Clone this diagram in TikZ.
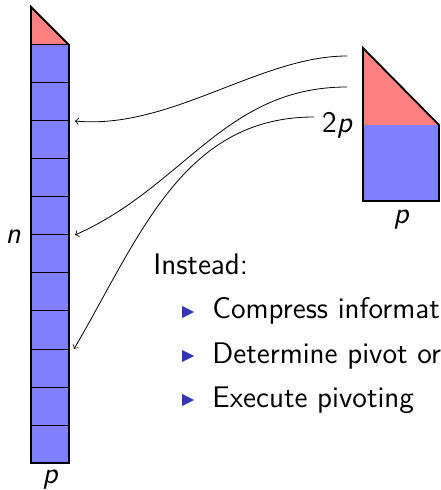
\documentclass[tikz,border=0pt]{standalone}
\usepackage{fontspec}
\definecolor{bulletblue}{RGB}{51,51,179}
\begin{document}
\begin{tikzpicture}[x=0.5pt,y=-0.5pt,
  txt/.style={font=\sffamily\fontsize{14.9pt}{17pt}\selectfont, inner sep=0pt},
  cellbox/.style={draw=black, line width=0.5pt, fill=blue!50, minimum width=19pt, minimum height=19pt, inner sep=0pt, outer sep=0pt, anchor=north west},
  outline/.style={draw=black, line width=0.9pt, line join=miter},
  conn/.style={->, line width=0.4pt}
]
\useasboundingbox (0,0) rectangle (440,490);
% tall column
\fill[red!50] (31,7) -- (69,45) -- (31,45) -- cycle;
\foreach \k in {1,...,11} {
  \node[cellbox] (cell\k) at (31,{45+38*(\k-1)}) {};
}
\draw[outline] (31,7) -- (69,45) -- (69,463) -- (31,463) -- cycle;
% right block
\fill[red!50] (363,48) -- (439,125) -- (363,125) -- cycle;
\fill[blue!50] (363,125) rectangle (439,201);
\draw[outline] (363,48) -- (439,125) -- (439,201) -- (363,201) -- cycle;
% labels
\node[txt] (lbln) at (13,237) {\itshape n};
\node[txt] (lblpa) at (50,480) {\itshape p};
\node[txt] (lblpb) at (401,220) {\itshape p};
\node[txt] (lbltwo) at (337,125) {2\itshape p};
% arrows
\coordinate (s1) at (347,56);
\coordinate (s2) at (347,87);
\coordinate (s3) at (314,117);
\coordinate (e1) at ([xshift=3pt]cell3.north east);
\coordinate (e2) at ([xshift=3pt]cell6.north east);
\coordinate (e3) at ([xshift=2.5pt]cell9.north east);
\draw[conn] (s1) .. controls (260,56) and (170,130) .. (e1);
\draw[conn] (s2) .. controls (225,87) and (185,186) .. (e2);
\draw[conn] (s3) .. controls (183,117) and (140,236) .. (e3);
% text
\node[txt, anchor=base west] (instead) at (153,275) {Instead:};
\foreach \i/\t in {1/Compress informat, 2/Determine pivot or, 3/Execute pivoting} {
  \node[txt, anchor=base west] (item\i) at (212,{319+44*(\i-1)}) {\t};
  \fill[bulletblue] (182,{306+44*(\i-1)}) -- (194,{312+44*(\i-1)}) -- (182,{318+44*(\i-1)}) -- cycle;
}
\end{tikzpicture}
\end{document}
